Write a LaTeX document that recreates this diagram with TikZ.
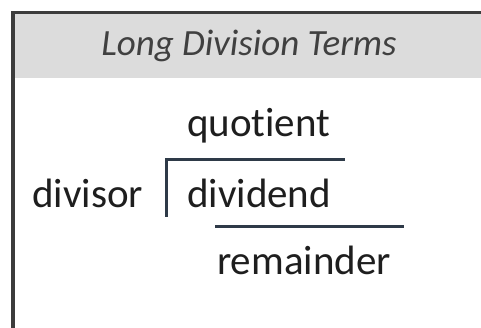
\documentclass[tikz,border=0pt]{standalone}
\usepackage{fontspec}
\setmainfont[Ligatures=NoCommon]{Carlito}
\definecolor{framecol}{HTML}{3C3C3C}
\definecolor{headfill}{HTML}{DCDCDC}
\definecolor{titlecol}{HTML}{404040}
\definecolor{txtcol}{HTML}{1E1E1E}
\definecolor{barcol}{HTML}{2E3A48}
\begin{document}
\begin{tikzpicture}[x=1pt,y=-1pt,
  term/.style={inner sep=0pt,anchor=base west,text=txtcol,font=\fontsize{41}{47}\selectfont},
  bar/.style={draw=barcol,line width=3pt}]
\useasboundingbox (0,0) rectangle (481,328);
\fill[white] (0,0) rectangle (481,328);
\fill[headfill] (13,12.5) rectangle (481,78);
\draw[framecol,line width=3.5pt] (13,340) -- (13,12.5) -- (490,12.5);
\node[inner sep=0pt,anchor=base,text=titlecol,font=\fontsize{37}{43}\selectfont\itshape] (title) at (249,56) {Long Division Terms};
\node[term] (quot) at (187,137) {quotient};
\node[term] (divisor) at (32,208) {divisor};
\node[term] (dividend) at (187,208) {dividend};
\node[term] (rem) at (217,274) {remainder};
\coordinate (bk1) at (166.5,217);
\coordinate (bk2) at (166.5,159.5);
\coordinate (bk3) at (345,159.5);
\coordinate (ln1) at (215,227);
\coordinate (ln2) at (404,227);
\draw[bar] (bk1) -- (bk2) -- (bk3);
\draw[bar] (ln1) -- (ln2);
\end{tikzpicture}
\end{document}
